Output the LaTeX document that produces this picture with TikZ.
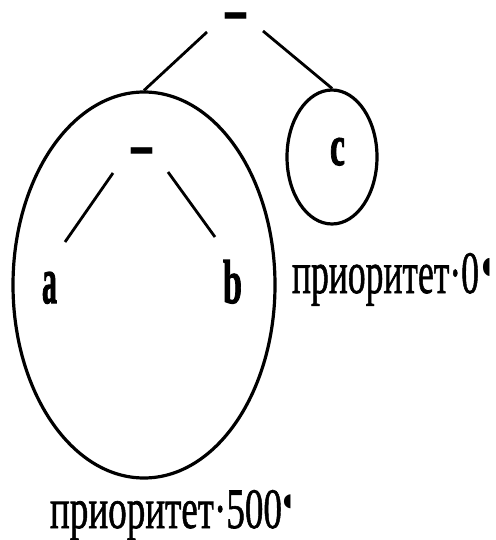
\documentclass[tikz,border=0pt]{standalone}
\usepackage{fontspec}
\setmainfont{Liberation Serif}
\newfontfamily\heavyfont{Liberation Serif Bold}[FakeBold=2]
\newfontfamily\dashfont{Liberation Serif Bold}
\newfontfamily\labelfont{Liberation Serif}[FakeBold=1.2]
\newfontfamily\symfont{DejaVu Sans}
\usetikzlibrary{shapes.geometric}
\tikzset{
  outline/.style={draw, ellipse, line width=3.2pt, inner sep=0pt},
  conn/.style={line width=2.8pt},
  lbl/.style={inner sep=0pt, outer sep=0pt},
}
\newcommand{\opdash}{\fontsize{42}{42}\selectfont\scalebox{1}[2.2]{\dashfont –}}
\newcommand{\pilc}[3]{\raisebox{#3}{\resizebox*{#1}{#2}{\symfont ◖}}}
\begin{document}
\begin{tikzpicture}[x=1pt,y=-1pt]
\useasboundingbox (0,0) rectangle (495,540);
% outlines
\node[outline, minimum width=262pt, minimum height=386pt] (E) at (144,285) {};
\node[outline, minimum width=90pt, minimum height=134pt] (C) at (332,157) {};
% operators
\node[lbl, anchor=north] (top) at (236,13) {\opdash};
\node[lbl, anchor=north] (inner) at (142,148) {\opdash};
% leaves
\node[lbl, anchor=base] (a) at (49.5,303) {\resizebox{15pt}{31pt}{\fontsize{40}{40}\selectfont\heavyfont a}};
\node[lbl, anchor=base] (b) at (232.5,303) {\resizebox{19pt}{43pt}{\fontsize{40}{40}\selectfont\heavyfont b}};
\node[lbl, anchor=base] (c) at (337.5,165) {\resizebox{15pt}{27pt}{\fontsize{40}{40}\selectfont\heavyfont c}};
% connector ends
\coordinate (tl) at (207,32);
\coordinate (tr) at (263,31);
\coordinate (il) at (113,173);
\coordinate (ilend) at (65,242);
\coordinate (ir) at (168,172);
\coordinate (irend) at (215,237);
\draw[conn] (tl) -- (E.north);
\draw[conn] (tr) -- (C.north);
\draw[conn] (il) -- (ilend);
\draw[conn] (ir) -- (irend);
% labels
\node[lbl, anchor=base west] (p0) at (292,293) {\resizebox{187pt}{40pt}{\fontsize{40}{40}\selectfont\labelfont приоритет·0}\hspace{3pt}\pilc{9pt}{18pt}{20pt}};
\node[lbl, anchor=base west] (p500) at (50,528) {\resizebox{232pt}{38pt}{\fontsize{40}{40}\selectfont\labelfont приоритет·500}\hspace{1pt}\pilc{9pt}{14pt}{22pt}};
\end{tikzpicture}
\end{document}
